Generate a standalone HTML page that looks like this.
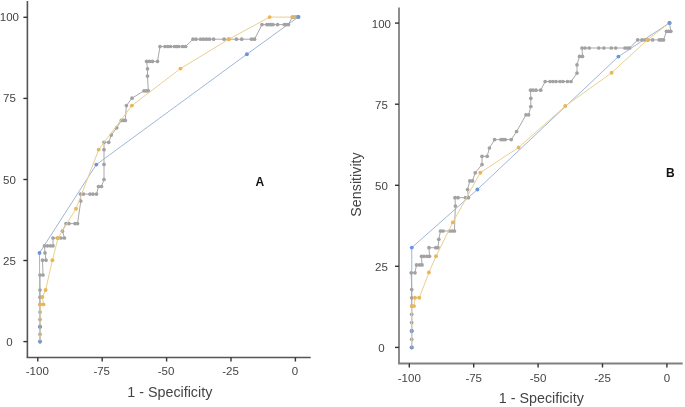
<!DOCTYPE html>
<html><head><meta charset="utf-8"><style>
html,body{margin:0;padding:0;background:#fff;}
body{width:685px;height:407px;overflow:hidden;}
svg{display:block;filter:blur(0.3px);}
.t{font-family:"Liberation Sans",sans-serif;font-size:11.5px;fill:#444;}
.ttl{font-family:"Liberation Sans",sans-serif;font-size:14.3px;fill:#444;}
.lab{font-family:"Liberation Sans",sans-serif;font-size:12px;font-weight:bold;fill:#111;}
</style></head><body>
<svg width="685" height="407" viewBox="0 0 685 407">
<line x1="27.4" y1="1" x2="27.4" y2="357.5" stroke="#555" stroke-width="1.6"/>
<line x1="26.599999999999998" y1="357.5" x2="310.7" y2="357.5" stroke="#555" stroke-width="1.6"/>
<line x1="23.4" y1="17.3" x2="27.4" y2="17.3" stroke="#333" stroke-width="1.4"/>
<text x="9.4" y="21.3" text-anchor="middle" class="t">100</text>
<line x1="23.4" y1="98.4" x2="27.4" y2="98.4" stroke="#333" stroke-width="1.4"/>
<text x="9.4" y="102.4" text-anchor="middle" class="t">75</text>
<line x1="23.4" y1="179.5" x2="27.4" y2="179.5" stroke="#333" stroke-width="1.4"/>
<text x="9.4" y="183.5" text-anchor="middle" class="t">50</text>
<line x1="23.4" y1="260.5" x2="27.4" y2="260.5" stroke="#333" stroke-width="1.4"/>
<text x="9.4" y="264.5" text-anchor="middle" class="t">25</text>
<line x1="23.4" y1="341.6" x2="27.4" y2="341.6" stroke="#333" stroke-width="1.4"/>
<text x="9.4" y="345.6" text-anchor="middle" class="t">0</text>
<line x1="37.8" y1="357.5" x2="37.8" y2="361.5" stroke="#333" stroke-width="1.4"/>
<text x="37.3" y="375.1" text-anchor="middle" class="t">-100</text>
<line x1="102.2" y1="357.5" x2="102.2" y2="361.5" stroke="#333" stroke-width="1.4"/>
<text x="101.7" y="375.1" text-anchor="middle" class="t">-75</text>
<line x1="166.6" y1="357.5" x2="166.6" y2="361.5" stroke="#333" stroke-width="1.4"/>
<text x="166.1" y="375.1" text-anchor="middle" class="t">-50</text>
<line x1="231.0" y1="357.5" x2="231.0" y2="361.5" stroke="#333" stroke-width="1.4"/>
<text x="230.5" y="375.1" text-anchor="middle" class="t">-25</text>
<line x1="295.4" y1="357.5" x2="295.4" y2="361.5" stroke="#333" stroke-width="1.4"/>
<text x="294.9" y="375.1" text-anchor="middle" class="t">0</text>
<line x1="399" y1="7.4" x2="399" y2="363.5" stroke="#808080" stroke-width="1.8"/>
<line x1="398.1" y1="363.5" x2="682.7" y2="363.5" stroke="#808080" stroke-width="1.8"/>
<line x1="395" y1="23.1" x2="399" y2="23.1" stroke="#333" stroke-width="1.4"/>
<text x="381.4" y="27.6" text-anchor="middle" class="t">100</text>
<line x1="395" y1="104.2" x2="399" y2="104.2" stroke="#333" stroke-width="1.4"/>
<text x="381.4" y="108.7" text-anchor="middle" class="t">75</text>
<line x1="395" y1="185.3" x2="399" y2="185.3" stroke="#333" stroke-width="1.4"/>
<text x="381.4" y="189.8" text-anchor="middle" class="t">50</text>
<line x1="395" y1="266.3" x2="399" y2="266.3" stroke="#333" stroke-width="1.4"/>
<text x="381.4" y="270.8" text-anchor="middle" class="t">25</text>
<line x1="395" y1="347.4" x2="399" y2="347.4" stroke="#333" stroke-width="1.4"/>
<text x="381.4" y="351.9" text-anchor="middle" class="t">0</text>
<line x1="409.3" y1="363.5" x2="409.3" y2="367.5" stroke="#333" stroke-width="1.4"/>
<text x="409.3" y="381.8" text-anchor="middle" class="t">-100</text>
<line x1="473.7" y1="363.5" x2="473.7" y2="367.5" stroke="#333" stroke-width="1.4"/>
<text x="473.7" y="381.8" text-anchor="middle" class="t">-75</text>
<line x1="538.1" y1="363.5" x2="538.1" y2="367.5" stroke="#333" stroke-width="1.4"/>
<text x="538.1" y="381.8" text-anchor="middle" class="t">-50</text>
<line x1="602.5" y1="363.5" x2="602.5" y2="367.5" stroke="#333" stroke-width="1.4"/>
<text x="602.5" y="381.8" text-anchor="middle" class="t">-25</text>
<line x1="666.9" y1="363.5" x2="666.9" y2="367.5" stroke="#333" stroke-width="1.4"/>
<text x="666.9" y="381.8" text-anchor="middle" class="t">0</text>
<polyline points="40.0,341.6 39.5,252.9 96.3,164.6 246.9,54.2 298.4,16.9" fill="none" stroke="#a0b5d6" stroke-width="1.0" stroke-linejoin="round"/>
<circle cx="40.0" cy="341.6" r="1.95" fill="#6a95dc"/><circle cx="40.0" cy="326.8" r="1.95" fill="#6a95dc"/><circle cx="39.5" cy="252.9" r="1.95" fill="#6a95dc"/><circle cx="96.3" cy="164.6" r="1.95" fill="#6a95dc"/><circle cx="246.9" cy="54.2" r="1.95" fill="#6a95dc"/><circle cx="298.4" cy="16.9" r="1.95" fill="#6a95dc"/>
<polyline points="40.0,341.6 40.0,334.2 40.0,326.8 40.0,319.4 40.0,312.0 40.0,304.4 40.0,297.2 40.0,290.0 40.0,275.0 43.0,275.0 42.5,260.2 46.0,260.2 45.0,252.9 44.5,245.8 47.5,245.8 50.5,245.8 53.0,245.8 53.0,238.0 57.5,238.0 61.0,238.0 64.5,238.0 62.4,231.2 66.0,223.6 69.0,223.6 75.0,223.6 77.5,223.6 80.8,201.0 80.5,194.1 83.5,194.1 90.0,194.1 93.0,194.1 96.5,194.1 98.5,186.5 101.5,186.5 104.0,179.5 104.0,164.4 104.0,149.7 104.0,142.3 108.7,142.3 111.3,135.1 116.7,127.8 121.3,120.4 123.5,120.4 125.3,120.4 126.4,105.6 132.0,98.2 144.0,90.8 146.3,90.8 148.3,90.8 147.5,76.1 147.5,68.8 146.6,61.4 149.5,61.4 152.5,61.4 157.5,61.4 160.0,46.5 165.0,46.5 167.8,46.5 170.6,46.5 174.5,46.5 176.8,46.5 178.8,46.5 182.6,46.5 185.6,46.5 193.0,39.2 196.0,39.2 200.5,39.2 203.5,39.2 206.5,39.2 209.5,39.2 213.6,39.2 224.1,39.2 228.8,39.2 236.4,39.2 241.7,39.2 251.5,39.2 254.5,39.2 262.0,24.6 266.8,24.6 269.0,24.6 271.0,24.6 273.0,24.6 277.6,24.6 284.3,24.6 286.3,24.6 288.4,24.6 292.4,17.0 294.5,17.0 296.5,17.0" fill="none" stroke="#a8a8a8" stroke-width="1.0" stroke-linejoin="round"/>
<circle cx="40.0" cy="341.6" r="1.85" fill="#a2a2a2"/><circle cx="40.0" cy="334.2" r="1.85" fill="#a2a2a2"/><circle cx="40.0" cy="326.8" r="1.85" fill="#a2a2a2"/><circle cx="40.0" cy="319.4" r="1.85" fill="#a2a2a2"/><circle cx="40.0" cy="312.0" r="1.85" fill="#a2a2a2"/><circle cx="40.0" cy="304.4" r="1.85" fill="#a2a2a2"/><circle cx="40.0" cy="297.2" r="1.85" fill="#a2a2a2"/><circle cx="40.0" cy="290.0" r="1.85" fill="#a2a2a2"/><circle cx="40.0" cy="275.0" r="1.85" fill="#a2a2a2"/><circle cx="43.0" cy="275.0" r="1.85" fill="#a2a2a2"/><circle cx="42.5" cy="260.2" r="1.85" fill="#a2a2a2"/><circle cx="46.0" cy="260.2" r="1.85" fill="#a2a2a2"/><circle cx="45.0" cy="252.9" r="1.85" fill="#a2a2a2"/><circle cx="44.5" cy="245.8" r="1.85" fill="#a2a2a2"/><circle cx="47.5" cy="245.8" r="1.85" fill="#a2a2a2"/><circle cx="50.5" cy="245.8" r="1.85" fill="#a2a2a2"/><circle cx="53.0" cy="245.8" r="1.85" fill="#a2a2a2"/><circle cx="53.0" cy="238.0" r="1.85" fill="#a2a2a2"/><circle cx="57.5" cy="238.0" r="1.85" fill="#a2a2a2"/><circle cx="61.0" cy="238.0" r="1.85" fill="#a2a2a2"/><circle cx="64.5" cy="238.0" r="1.85" fill="#a2a2a2"/><circle cx="62.4" cy="231.2" r="1.85" fill="#a2a2a2"/><circle cx="66.0" cy="223.6" r="1.85" fill="#a2a2a2"/><circle cx="69.0" cy="223.6" r="1.85" fill="#a2a2a2"/><circle cx="75.0" cy="223.6" r="1.85" fill="#a2a2a2"/><circle cx="77.5" cy="223.6" r="1.85" fill="#a2a2a2"/><circle cx="80.8" cy="201.0" r="1.85" fill="#a2a2a2"/><circle cx="80.5" cy="194.1" r="1.85" fill="#a2a2a2"/><circle cx="83.5" cy="194.1" r="1.85" fill="#a2a2a2"/><circle cx="90.0" cy="194.1" r="1.85" fill="#a2a2a2"/><circle cx="93.0" cy="194.1" r="1.85" fill="#a2a2a2"/><circle cx="96.5" cy="194.1" r="1.85" fill="#a2a2a2"/><circle cx="98.5" cy="186.5" r="1.85" fill="#a2a2a2"/><circle cx="101.5" cy="186.5" r="1.85" fill="#a2a2a2"/><circle cx="104.0" cy="179.5" r="1.85" fill="#a2a2a2"/><circle cx="104.0" cy="164.4" r="1.85" fill="#a2a2a2"/><circle cx="104.0" cy="149.7" r="1.85" fill="#a2a2a2"/><circle cx="104.0" cy="142.3" r="1.85" fill="#a2a2a2"/><circle cx="108.7" cy="142.3" r="1.85" fill="#a2a2a2"/><circle cx="111.3" cy="135.1" r="1.85" fill="#a2a2a2"/><circle cx="116.7" cy="127.8" r="1.85" fill="#a2a2a2"/><circle cx="121.3" cy="120.4" r="1.85" fill="#a2a2a2"/><circle cx="123.5" cy="120.4" r="1.85" fill="#a2a2a2"/><circle cx="125.3" cy="120.4" r="1.85" fill="#a2a2a2"/><circle cx="126.4" cy="105.6" r="1.85" fill="#a2a2a2"/><circle cx="132.0" cy="98.2" r="1.85" fill="#a2a2a2"/><circle cx="144.0" cy="90.8" r="1.85" fill="#a2a2a2"/><circle cx="146.3" cy="90.8" r="1.85" fill="#a2a2a2"/><circle cx="148.3" cy="90.8" r="1.85" fill="#a2a2a2"/><circle cx="147.5" cy="76.1" r="1.85" fill="#a2a2a2"/><circle cx="147.5" cy="68.8" r="1.85" fill="#a2a2a2"/><circle cx="146.6" cy="61.4" r="1.85" fill="#a2a2a2"/><circle cx="149.5" cy="61.4" r="1.85" fill="#a2a2a2"/><circle cx="152.5" cy="61.4" r="1.85" fill="#a2a2a2"/><circle cx="157.5" cy="61.4" r="1.85" fill="#a2a2a2"/><circle cx="160.0" cy="46.5" r="1.85" fill="#a2a2a2"/><circle cx="165.0" cy="46.5" r="1.85" fill="#a2a2a2"/><circle cx="167.8" cy="46.5" r="1.85" fill="#a2a2a2"/><circle cx="170.6" cy="46.5" r="1.85" fill="#a2a2a2"/><circle cx="174.5" cy="46.5" r="1.85" fill="#a2a2a2"/><circle cx="176.8" cy="46.5" r="1.85" fill="#a2a2a2"/><circle cx="178.8" cy="46.5" r="1.85" fill="#a2a2a2"/><circle cx="182.6" cy="46.5" r="1.85" fill="#a2a2a2"/><circle cx="185.6" cy="46.5" r="1.85" fill="#a2a2a2"/><circle cx="193.0" cy="39.2" r="1.85" fill="#a2a2a2"/><circle cx="196.0" cy="39.2" r="1.85" fill="#a2a2a2"/><circle cx="200.5" cy="39.2" r="1.85" fill="#a2a2a2"/><circle cx="203.5" cy="39.2" r="1.85" fill="#a2a2a2"/><circle cx="206.5" cy="39.2" r="1.85" fill="#a2a2a2"/><circle cx="209.5" cy="39.2" r="1.85" fill="#a2a2a2"/><circle cx="213.6" cy="39.2" r="1.85" fill="#a2a2a2"/><circle cx="224.1" cy="39.2" r="1.85" fill="#a2a2a2"/><circle cx="228.8" cy="39.2" r="1.85" fill="#a2a2a2"/><circle cx="236.4" cy="39.2" r="1.85" fill="#a2a2a2"/><circle cx="241.7" cy="39.2" r="1.85" fill="#a2a2a2"/><circle cx="251.5" cy="39.2" r="1.85" fill="#a2a2a2"/><circle cx="254.5" cy="39.2" r="1.85" fill="#a2a2a2"/><circle cx="262.0" cy="24.6" r="1.85" fill="#a2a2a2"/><circle cx="266.8" cy="24.6" r="1.85" fill="#a2a2a2"/><circle cx="269.0" cy="24.6" r="1.85" fill="#a2a2a2"/><circle cx="271.0" cy="24.6" r="1.85" fill="#a2a2a2"/><circle cx="273.0" cy="24.6" r="1.85" fill="#a2a2a2"/><circle cx="277.6" cy="24.6" r="1.85" fill="#a2a2a2"/><circle cx="284.3" cy="24.6" r="1.85" fill="#a2a2a2"/><circle cx="286.3" cy="24.6" r="1.85" fill="#a2a2a2"/><circle cx="288.4" cy="24.6" r="1.85" fill="#a2a2a2"/><circle cx="292.4" cy="17.0" r="1.85" fill="#a2a2a2"/><circle cx="294.5" cy="17.0" r="1.85" fill="#a2a2a2"/><circle cx="296.5" cy="17.0" r="1.85" fill="#a2a2a2"/>
<polyline points="40.0,341.6 40.0,334.2 40.0,326.8 40.0,319.4 40.0,312.0 40.0,304.4 43.5,304.4 42.4,297.0 45.6,290.0 52.4,260.3 58.0,238.0 76.0,208.7 98.7,149.6 131.9,105.6 180.5,68.6 228.9,39.2 269.6,17.1 292.0,17.1 295.5,17.1" fill="none" stroke="#e8cf92" stroke-width="1.0" stroke-linejoin="round"/>
<circle cx="40.0" cy="304.4" r="1.95" fill="#eab656"/><circle cx="43.5" cy="304.4" r="1.95" fill="#eab656"/><circle cx="42.4" cy="297.0" r="1.95" fill="#eab656"/><circle cx="45.6" cy="290.0" r="1.95" fill="#eab656"/><circle cx="52.4" cy="260.3" r="1.95" fill="#eab656"/><circle cx="58.0" cy="238.0" r="1.95" fill="#eab656"/><circle cx="76.0" cy="208.7" r="1.95" fill="#eab656"/><circle cx="98.7" cy="149.6" r="1.95" fill="#eab656"/><circle cx="131.9" cy="105.6" r="1.95" fill="#eab656"/><circle cx="180.5" cy="68.6" r="1.95" fill="#eab656"/><circle cx="228.9" cy="39.2" r="1.95" fill="#eab656"/><circle cx="269.6" cy="17.1" r="1.95" fill="#eab656"/>
<circle cx="40.0" cy="341.6" r="2.0" fill="#6a95dc" fill-opacity="0.6"/><circle cx="40.0" cy="326.8" r="2.0" fill="#6a95dc" fill-opacity="0.6"/>
<circle cx="292.0" cy="17.1" r="1.95" fill="#eab656" fill-opacity="0.45"/><circle cx="295.5" cy="17.1" r="1.95" fill="#eab656" fill-opacity="0.45"/>
<circle cx="298.4" cy="16.9" r="2.0" fill="#6a95dc" fill-opacity="0.8"/>
<polyline points="411.7,347.4 411.8,247.6 477.4,189.5 618.4,56.6 669.5,22.9" fill="none" stroke="#a0b5d6" stroke-width="1.0" stroke-linejoin="round"/>
<circle cx="411.7" cy="347.4" r="1.95" fill="#6a95dc"/><circle cx="411.7" cy="331.0" r="1.95" fill="#6a95dc"/><circle cx="411.8" cy="247.6" r="1.95" fill="#6a95dc"/><circle cx="477.4" cy="189.5" r="1.95" fill="#6a95dc"/><circle cx="618.4" cy="56.6" r="1.95" fill="#6a95dc"/><circle cx="669.5" cy="22.9" r="1.95" fill="#6a95dc"/>
<polyline points="411.7,347.4 411.7,339.3 411.7,331.0 411.7,322.6 411.7,314.3 411.7,306.1 411.7,297.8 411.7,289.5 411.2,272.8 415.0,272.8 416.5,264.9 419.5,264.9 422.0,264.9 421.5,256.3 424.0,256.3 427.0,256.3 429.5,256.3 429.0,247.7 435.8,247.7 438.0,247.7 438.8,239.3 440.5,231.0 443.0,231.0 449.6,231.0 452.0,231.0 454.4,231.0 455.4,206.0 455.0,197.7 458.0,197.7 465.5,197.7 468.5,197.7 467.6,189.5 469.8,180.9 472.5,180.9 475.2,172.8 482.0,164.6 482.0,156.3 487.2,156.3 489.4,148.0 494.6,139.6 501.0,139.6 503.0,139.6 505.2,139.6 511.2,139.6 516.6,131.5 526.0,114.8 528.6,114.8 530.8,106.5 530.8,98.3 530.5,90.2 533.0,90.2 536.0,90.2 540.7,90.2 545.2,81.5 550.0,81.5 553.0,81.5 556.0,81.5 560.0,81.5 563.0,81.5 567.5,81.5 571.0,81.5 577.0,73.1 577.0,64.8 579.5,56.4 582.5,56.4 582.0,48.0 585.0,48.0 589.2,48.0 598.8,48.0 603.9,48.0 611.3,48.0 615.7,48.0 625.0,48.0 627.5,48.0 629.6,48.0 637.7,39.9 642.0,39.9 645.0,39.9 648.0,39.9 652.6,39.9 659.3,39.9 661.5,39.9 663.5,39.9 666.5,31.3 668.6,31.3 670.8,31.3 669.5,22.9" fill="none" stroke="#a8a8a8" stroke-width="1.0" stroke-linejoin="round"/>
<circle cx="411.7" cy="347.4" r="1.85" fill="#a2a2a2"/><circle cx="411.7" cy="339.3" r="1.85" fill="#a2a2a2"/><circle cx="411.7" cy="331.0" r="1.85" fill="#a2a2a2"/><circle cx="411.7" cy="322.6" r="1.85" fill="#a2a2a2"/><circle cx="411.7" cy="314.3" r="1.85" fill="#a2a2a2"/><circle cx="411.7" cy="306.1" r="1.85" fill="#a2a2a2"/><circle cx="411.7" cy="297.8" r="1.85" fill="#a2a2a2"/><circle cx="411.7" cy="289.5" r="1.85" fill="#a2a2a2"/><circle cx="411.2" cy="272.8" r="1.85" fill="#a2a2a2"/><circle cx="415.0" cy="272.8" r="1.85" fill="#a2a2a2"/><circle cx="416.5" cy="264.9" r="1.85" fill="#a2a2a2"/><circle cx="419.5" cy="264.9" r="1.85" fill="#a2a2a2"/><circle cx="422.0" cy="264.9" r="1.85" fill="#a2a2a2"/><circle cx="421.5" cy="256.3" r="1.85" fill="#a2a2a2"/><circle cx="424.0" cy="256.3" r="1.85" fill="#a2a2a2"/><circle cx="427.0" cy="256.3" r="1.85" fill="#a2a2a2"/><circle cx="429.5" cy="256.3" r="1.85" fill="#a2a2a2"/><circle cx="429.0" cy="247.7" r="1.85" fill="#a2a2a2"/><circle cx="435.8" cy="247.7" r="1.85" fill="#a2a2a2"/><circle cx="438.0" cy="247.7" r="1.85" fill="#a2a2a2"/><circle cx="438.8" cy="239.3" r="1.85" fill="#a2a2a2"/><circle cx="440.5" cy="231.0" r="1.85" fill="#a2a2a2"/><circle cx="443.0" cy="231.0" r="1.85" fill="#a2a2a2"/><circle cx="449.6" cy="231.0" r="1.85" fill="#a2a2a2"/><circle cx="452.0" cy="231.0" r="1.85" fill="#a2a2a2"/><circle cx="454.4" cy="231.0" r="1.85" fill="#a2a2a2"/><circle cx="455.4" cy="206.0" r="1.85" fill="#a2a2a2"/><circle cx="455.0" cy="197.7" r="1.85" fill="#a2a2a2"/><circle cx="458.0" cy="197.7" r="1.85" fill="#a2a2a2"/><circle cx="465.5" cy="197.7" r="1.85" fill="#a2a2a2"/><circle cx="468.5" cy="197.7" r="1.85" fill="#a2a2a2"/><circle cx="467.6" cy="189.5" r="1.85" fill="#a2a2a2"/><circle cx="469.8" cy="180.9" r="1.85" fill="#a2a2a2"/><circle cx="472.5" cy="180.9" r="1.85" fill="#a2a2a2"/><circle cx="475.2" cy="172.8" r="1.85" fill="#a2a2a2"/><circle cx="482.0" cy="164.6" r="1.85" fill="#a2a2a2"/><circle cx="482.0" cy="156.3" r="1.85" fill="#a2a2a2"/><circle cx="487.2" cy="156.3" r="1.85" fill="#a2a2a2"/><circle cx="489.4" cy="148.0" r="1.85" fill="#a2a2a2"/><circle cx="494.6" cy="139.6" r="1.85" fill="#a2a2a2"/><circle cx="501.0" cy="139.6" r="1.85" fill="#a2a2a2"/><circle cx="503.0" cy="139.6" r="1.85" fill="#a2a2a2"/><circle cx="505.2" cy="139.6" r="1.85" fill="#a2a2a2"/><circle cx="511.2" cy="139.6" r="1.85" fill="#a2a2a2"/><circle cx="516.6" cy="131.5" r="1.85" fill="#a2a2a2"/><circle cx="526.0" cy="114.8" r="1.85" fill="#a2a2a2"/><circle cx="528.6" cy="114.8" r="1.85" fill="#a2a2a2"/><circle cx="530.8" cy="106.5" r="1.85" fill="#a2a2a2"/><circle cx="530.8" cy="98.3" r="1.85" fill="#a2a2a2"/><circle cx="530.5" cy="90.2" r="1.85" fill="#a2a2a2"/><circle cx="533.0" cy="90.2" r="1.85" fill="#a2a2a2"/><circle cx="536.0" cy="90.2" r="1.85" fill="#a2a2a2"/><circle cx="540.7" cy="90.2" r="1.85" fill="#a2a2a2"/><circle cx="545.2" cy="81.5" r="1.85" fill="#a2a2a2"/><circle cx="550.0" cy="81.5" r="1.85" fill="#a2a2a2"/><circle cx="553.0" cy="81.5" r="1.85" fill="#a2a2a2"/><circle cx="556.0" cy="81.5" r="1.85" fill="#a2a2a2"/><circle cx="560.0" cy="81.5" r="1.85" fill="#a2a2a2"/><circle cx="563.0" cy="81.5" r="1.85" fill="#a2a2a2"/><circle cx="567.5" cy="81.5" r="1.85" fill="#a2a2a2"/><circle cx="571.0" cy="81.5" r="1.85" fill="#a2a2a2"/><circle cx="577.0" cy="73.1" r="1.85" fill="#a2a2a2"/><circle cx="577.0" cy="64.8" r="1.85" fill="#a2a2a2"/><circle cx="579.5" cy="56.4" r="1.85" fill="#a2a2a2"/><circle cx="582.5" cy="56.4" r="1.85" fill="#a2a2a2"/><circle cx="582.0" cy="48.0" r="1.85" fill="#a2a2a2"/><circle cx="585.0" cy="48.0" r="1.85" fill="#a2a2a2"/><circle cx="589.2" cy="48.0" r="1.85" fill="#a2a2a2"/><circle cx="598.8" cy="48.0" r="1.85" fill="#a2a2a2"/><circle cx="603.9" cy="48.0" r="1.85" fill="#a2a2a2"/><circle cx="611.3" cy="48.0" r="1.85" fill="#a2a2a2"/><circle cx="615.7" cy="48.0" r="1.85" fill="#a2a2a2"/><circle cx="625.0" cy="48.0" r="1.85" fill="#a2a2a2"/><circle cx="627.5" cy="48.0" r="1.85" fill="#a2a2a2"/><circle cx="629.6" cy="48.0" r="1.85" fill="#a2a2a2"/><circle cx="637.7" cy="39.9" r="1.85" fill="#a2a2a2"/><circle cx="642.0" cy="39.9" r="1.85" fill="#a2a2a2"/><circle cx="645.0" cy="39.9" r="1.85" fill="#a2a2a2"/><circle cx="648.0" cy="39.9" r="1.85" fill="#a2a2a2"/><circle cx="652.6" cy="39.9" r="1.85" fill="#a2a2a2"/><circle cx="659.3" cy="39.9" r="1.85" fill="#a2a2a2"/><circle cx="661.5" cy="39.9" r="1.85" fill="#a2a2a2"/><circle cx="663.5" cy="39.9" r="1.85" fill="#a2a2a2"/><circle cx="666.5" cy="31.3" r="1.85" fill="#a2a2a2"/><circle cx="668.6" cy="31.3" r="1.85" fill="#a2a2a2"/><circle cx="670.8" cy="31.3" r="1.85" fill="#a2a2a2"/><circle cx="669.5" cy="22.9" r="1.85" fill="#a2a2a2"/>
<polyline points="411.7,347.4 411.7,339.3 411.7,331.0 411.7,322.6 411.7,314.3 411.7,306.1 414.0,306.1 415.0,297.8 419.3,297.8 428.9,272.5 436.0,256.3 452.8,222.4 480.3,172.7 518.6,147.5 565.3,106.0 611.6,72.8 647.2,40.0 669.5,22.9" fill="none" stroke="#e8cf92" stroke-width="1.0" stroke-linejoin="round"/>
<circle cx="411.7" cy="306.1" r="1.95" fill="#eab656"/><circle cx="414.0" cy="306.1" r="1.95" fill="#eab656"/><circle cx="415.0" cy="297.8" r="1.95" fill="#eab656"/><circle cx="419.3" cy="297.8" r="1.95" fill="#eab656"/><circle cx="428.9" cy="272.5" r="1.95" fill="#eab656"/><circle cx="436.0" cy="256.3" r="1.95" fill="#eab656"/><circle cx="452.8" cy="222.4" r="1.95" fill="#eab656"/><circle cx="480.3" cy="172.7" r="1.95" fill="#eab656"/><circle cx="518.6" cy="147.5" r="1.95" fill="#eab656"/><circle cx="565.3" cy="106.0" r="1.95" fill="#eab656"/><circle cx="611.6" cy="72.8" r="1.95" fill="#eab656"/><circle cx="647.2" cy="40.0" r="1.95" fill="#eab656"/>
<circle cx="411.7" cy="347.4" r="2.0" fill="#6a95dc" fill-opacity="0.6"/><circle cx="411.7" cy="331.0" r="2.0" fill="#6a95dc" fill-opacity="0.6"/>
<circle cx="669.5" cy="22.9" r="2.0" fill="#6a95dc" fill-opacity="0.8"/>
<text x="169.8" y="397" text-anchor="middle" class="ttl">1 - Specificity</text>
<text x="541.3" y="403" text-anchor="middle" class="ttl">1 - Specificity</text>
<text transform="translate(361,184.5) rotate(-90)" text-anchor="middle" class="ttl">Sensitivity</text>
<text x="259.8" y="185.7" text-anchor="middle" class="lab">A</text>
<text x="670.4" y="176.7" text-anchor="middle" class="lab">B</text>
</svg>
</body></html>
